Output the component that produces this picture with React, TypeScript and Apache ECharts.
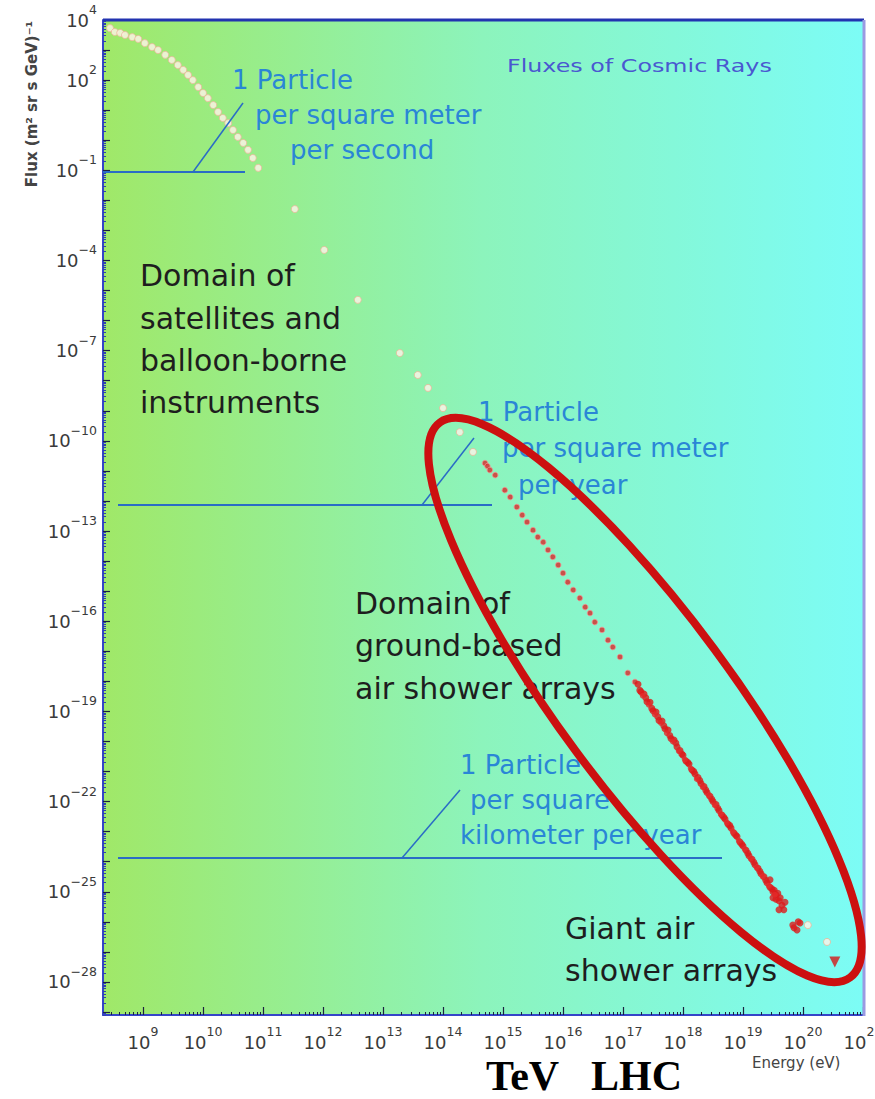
import React, { useEffect, useRef } from "react";
import * as echarts from "echarts";

// ---- data (log10 of energy in eV, log10 of flux) ----
const whiteLogE = [8.45, 8.53, 8.62, 8.7, 8.82, 8.92, 9.03, 9.15, 9.25, 9.37, 9.48, 9.58, 9.67, 9.75, 9.83, 9.92, 10.0, 10.08, 10.17, 10.25, 10.33, 10.42, 10.5, 10.58, 10.67, 10.75, 10.83, 10.92, 11.53, 12.02, 12.58, 13.28, 13.58, 13.75, 14.0, 14.28, 14.5, 20.08, 20.4];
const whiteLogF = [3.73, 3.6, 3.57, 3.5, 3.43, 3.37, 3.23, 3.1, 3.0, 2.84, 2.67, 2.5, 2.34, 2.17, 2.0, 1.77, 1.57, 1.4, 1.17, 0.94, 0.74, 0.57, 0.34, 0.11, -0.09, -0.32, -0.59, -0.92, -2.29, -3.65, -5.31, -7.08, -7.81, -8.24, -8.91, -9.71, -10.37, -26.11, -26.67];

const redSmallLogE = [14.7, 14.74, 14.78, 14.87, 15.03, 15.12, 15.23, 15.32, 15.4, 15.5, 15.58, 15.67, 15.75, 15.83, 15.92, 16.0, 16.08, 16.17, 16.28, 16.37, 16.45, 16.53, 16.65, 16.75, 16.83, 16.95, 17.08, 17.2];
const redSmallLogF = [-10.74, -10.84, -10.97, -11.14, -11.64, -11.87, -12.2, -12.47, -12.7, -12.97, -13.2, -13.37, -13.63, -13.86, -14.13, -14.4, -14.7, -14.96, -15.23, -15.53, -15.73, -16.03, -16.29, -16.63, -16.86, -17.19, -17.72, -18.02];

const bandALogE = [17.25, 17.3, 17.35, 17.4, 17.45, 17.5, 17.55, 17.6, 17.65, 17.7, 17.75, 17.8, 17.85, 17.9, 17.95, 18.0, 18.05, 18.1, 18.15, 18.2, 18.25, 18.3, 18.35, 18.4, 18.45, 18.5, 18.55, 18.6, 18.65, 18.7, 18.75, 18.8, 18.85, 18.9, 18.95, 19.0, 19.05, 19.1, 19.15, 19.2, 19.25, 19.3, 19.35, 19.4, 19.45, 19.5, 19.55, 19.6, 19.65];
const bandALogF = [-18.1, -18.35, -18.42, -18.68, -18.7, -18.98, -19.02, -19.3, -19.32, -19.58, -19.62, -19.9, -19.95, -20.18, -20.3, -20.46, -20.65, -20.75, -20.95, -21.08, -21.2, -21.4, -21.5, -21.7, -21.82, -22.0, -22.1, -22.3, -22.45, -22.58, -22.75, -22.88, -23.05, -23.16, -23.35, -23.48, -23.62, -23.8, -23.92, -24.1, -24.22, -24.4, -24.5, -24.7, -24.85, -25.0, -25.1, -25.3, -25.45];

const bandBLogE = [17.28, 17.38, 17.48, 17.58, 17.68, 17.78, 17.88, 17.98, 18.08, 18.18, 18.28, 18.38, 18.48, 18.58, 18.68, 18.78, 18.88, 18.98, 19.08, 19.18, 19.28, 19.38, 19.48, 19.55, 19.62, 19.68, 19.7, 19.45, 19.52, 19.58, 19.5, 19.6, 19.83, 19.95, 19.9, 19.85, 19.92];
const bandBLogF = [-18.3, -18.55, -18.9, -19.18, -19.48, -19.8, -20.05, -20.42, -20.7, -21.0, -21.3, -21.62, -21.92, -22.22, -22.52, -22.8, -23.12, -23.42, -23.72, -24.02, -24.32, -24.62, -24.9, -25.25, -25.2, -25.6, -25.35, -24.6, -24.95, -25.05, -25.2, -25.6, -26.11, -26.04, -26.27, -26.2, -26.0];

const bandCLogE = [17.33, 17.43, 17.53, 17.63, 17.73, 17.83, 17.93, 18.03, 18.13, 18.23, 18.33, 18.43, 18.53, 18.63, 18.73, 18.83, 18.93, 19.03, 19.13, 19.23, 19.33, 19.43, 19.53];
const bandCLogF = [-18.48, -18.78, -19.1, -19.38, -19.72, -20.0, -20.32, -20.6, -20.9, -21.25, -21.52, -21.8, -22.12, -22.42, -22.7, -23.0, -23.3, -23.58, -23.9, -24.2, -24.5, -24.8, -25.1];

const triangleLogE = [20.53];
const triangleLogF = [-27.34];

const xLabelValues = [9, 10, 11, 12, 13, 14, 15, 16, 17, 18, 19, 20, 21];
const yLabelValues = [4, 2, -1, -4, -7, -10, -13, -16, -19, -22, -25, -28];

const X_MIN = 8.333;
const X_MAX = 21;
const Y_MIN = -29.1;
const Y_MAX = 4;

const zip = (a: number[], b: number[]) => a.map((v, i) => [v, b[i]]);

const minorTicks = (from: number, to: number) => {
  const out: number[] = [];
  for (let n = from; n <= to; n++) {
    for (let k = 2; k <= 9; k++) out.push(n + Math.log10(k));
  }
  return out;
};
const intRange = (from: number, to: number) => {
  const out: number[] = [];
  for (let n = from; n <= to; n++) out.push(n);
  return out;
};

const supFmt = (v: number) => {
  const r = Math.round(v);
  const e = r < 0 ? "\u2212" + -r : String(r);
  return `{b|10}{s|${e}}`;
};

const FONT = "DejaVu Sans";
const labelRich = {
  b: { fontSize: 18, fontFamily: FONT, color: "#3a3a3a", lineHeight: 34 },
  s: { fontSize: 12.5, fontFamily: FONT, color: "#3a3a3a", lineHeight: 12, verticalAlign: "top" },
};

const BLUE_TXT = "#2a86d6";
const BLUE_LINE = "#2a6cc6";
const DARK_TXT = "#1e1e1e";

const txt = (text: string, x: number, y: number, size: number, fill: string, extra: any = {}) => ({
  type: "text",
  x,
  y,
  z: 50,
  style: {
    text,
    fill,
    fontSize: size,
    fontFamily: FONT,
    align: "left",
    verticalAlign: "middle",
    ...extra,
  },
});

const ln = (x1: number, y1: number, x2: number, y2: number, stroke: string, w: number) => ({
  type: "line",
  z: 40,
  shape: { x1, y1, x2, y2 },
  style: { stroke, lineWidth: w },
});

export default function App() {
  const ref = useRef<HTMLDivElement>(null);

  useEffect(() => {
    document.body.style.margin = "0";
    const chart = echarts.init(ref.current!, undefined, { renderer: "svg" });

    const option: any = {
      animation: false,
      backgroundColor: "#ffffff",
      grid: {
        left: 103,
        top: 20,
        width: 760,
        height: 995,
        show: true,
        borderWidth: 0,
        containLabel: false,
        outerBoundsMode: "none",
        backgroundColor: new echarts.graphic.LinearGradient(0, 0, 1, 0, [
          { offset: 0, color: "#a0e868" },
          { offset: 0.5, color: "#8cf4bc" },
          { offset: 1, color: "#7cfcf6" },
        ]),
      },
      xAxis: [
        {
          type: "value",
          min: X_MIN,
          max: X_MAX,
          position: "bottom",
          splitLine: { show: false },
          axisLine: { show: true, onZero: false, lineStyle: { color: "#3545c8", width: 2 } },
          axisTick: {
            show: true,
            inside: true,
            length: 8,
            customValues: xLabelValues,
            lineStyle: { color: "#1c2240", width: 1.2 },
          },
          axisLabel: {
            show: true,
            margin: 10,
            customValues: xLabelValues,
            formatter: supFmt,
            rich: labelRich,
          },
        },
        {
          type: "value",
          min: X_MIN,
          max: X_MAX,
          position: "bottom",
          splitLine: { show: false },
          axisLine: { show: false, onZero: false },
          axisTick: {
            show: true,
            inside: true,
            length: 3,
            customValues: minorTicks(8, 20),
            lineStyle: { color: "#1c2240", width: 1 },
          },
          axisLabel: { show: false },
        },
      ],
      yAxis: [
        {
          type: "value",
          min: Y_MIN,
          max: Y_MAX,
          position: "left",
          splitLine: { show: false },
          axisLine: { show: true, onZero: false, lineStyle: { color: "#3545c8", width: 2 } },
          axisTick: {
            show: true,
            inside: true,
            length: 7,
            customValues: intRange(-29, 4),
            lineStyle: { color: "#1c2240", width: 1.2 },
          },
          axisLabel: {
            show: true,
            margin: 6,
            customValues: yLabelValues,
            formatter: supFmt,
            rich: labelRich,
          },
        },
        {
          type: "value",
          min: Y_MIN,
          max: Y_MAX,
          position: "left",
          splitLine: { show: false },
          axisLine: { show: false, onZero: false },
          axisTick: {
            show: true,
            inside: true,
            length: 3,
            customValues: minorTicks(-30, 3),
            lineStyle: { color: "#3040b0", width: 1 },
          },
          axisLabel: { show: false },
        },
      ],
      series: [
        {
          type: "scatter",
          name: "low energy",
          symbol: "circle",
          symbolSize: 7,
          data: zip(whiteLogE, whiteLogF),
          itemStyle: { color: "#fff4ea", borderColor: "#eab898", borderWidth: 1 },
          z: 3,
        },
        {
          type: "scatter",
          name: "air shower small",
          symbol: "circle",
          symbolSize: 5.5,
          data: zip(redSmallLogE, redSmallLogF),
          itemStyle: { color: "#d82828", borderColor: "#f29090", borderWidth: 1 },
          z: 3,
        },
        {
          type: "scatter",
          name: "air shower A",
          symbol: "circle",
          symbolSize: 7,
          data: zip(bandALogE, bandALogF),
          itemStyle: { color: "#e01616" },
          z: 3,
        },
        {
          type: "scatter",
          name: "air shower B",
          symbol: "circle",
          symbolSize: 7,
          data: zip(bandBLogE, bandBLogF),
          itemStyle: { color: "#dc1c1c" },
          z: 3,
        },
        {
          type: "scatter",
          name: "air shower C",
          symbol: "circle",
          symbolSize: 6,
          data: zip(bandCLogE, bandCLogF),
          itemStyle: { color: "#e42a2a" },
          z: 3,
        },
        {
          type: "scatter",
          name: "highest",
          symbol: "triangle",
          symbolRotate: 180,
          symbolSize: 11,
          data: zip(triangleLogE, triangleLogF),
          itemStyle: { color: "#d41818" },
          z: 3,
        },
      ],
      graphic: [
        // frame top and right
        ln(103, 20, 864, 20, "#2233b0", 3),
        ln(864, 20, 864, 1016, "#9a9ae2", 3),
        // title
        {
          type: "text",
          x: 507,
          y: 66,
          scaleX: 1.4,
          z: 50,
          style: {
            text: "Fluxes of Cosmic Rays",
            fill: "#4a58d0",
            fontSize: 17,
            fontFamily: FONT,
            align: "left",
            verticalAlign: "middle",
          },
        },
        // y axis name
        {
          type: "text",
          x: 32,
          y: 104,
          rotation: Math.PI / 2,
          z: 50,
          style: {
            text: "Flux (m\u00b2 sr s GeV)\u207b\u00b9",
            fill: "#444444",
            fontSize: 15,
            fontWeight: "bold",
            fontFamily: FONT,
            align: "center",
            verticalAlign: "middle",
          },
        },
        // x axis name
        txt("Energy (eV)", 752, 1063, 15, "#444444"),
        // TeV LHC
        txt("TeV", 486, 1097, 42, "#000000", { fontFamily: "Liberation Serif", fontWeight: "bold", verticalAlign: "bottom" }),
        txt("LHC", 591, 1097, 42, "#000000", { fontFamily: "Liberation Serif", fontWeight: "bold", verticalAlign: "bottom" }),
        // annotation 1
        ln(103, 172, 245, 172, BLUE_LINE, 2),
        ln(193, 172, 243, 103, BLUE_LINE, 1.5),
        txt("1 Particle", 232, 80, 26, BLUE_TXT),
        txt("per square meter", 255, 115, 26, BLUE_TXT),
        txt("per second", 290, 150, 26, BLUE_TXT),
        // annotation 2
        ln(118, 505, 492, 505, BLUE_LINE, 2),
        ln(422, 505, 474, 438, BLUE_LINE, 1.5),
        txt("1 Particle", 478, 412, 26, BLUE_TXT),
        txt("per square meter", 502, 448, 26, BLUE_TXT),
        txt("per year", 518, 485, 26, BLUE_TXT),
        // annotation 3
        ln(118, 858, 722, 858, BLUE_LINE, 2),
        ln(402, 858, 460, 790, BLUE_LINE, 1.5),
        txt("1 Particle", 460, 765, 26, BLUE_TXT),
        txt("per square", 470, 800, 26, BLUE_TXT),
        txt("kilometer per year", 460, 835, 26, BLUE_TXT),
        // domains
        txt("Domain of", 140, 275, 30, DARK_TXT),
        txt("satellites and", 140, 318, 30, DARK_TXT),
        txt("balloon-borne", 140, 360, 30, DARK_TXT),
        txt("instruments", 140, 402, 30, DARK_TXT),
        txt("Domain of", 355, 603, 30, DARK_TXT),
        txt("ground-based", 355, 645, 30, DARK_TXT),
        txt("air shower arrays", 355, 688, 30, DARK_TXT),
        txt("Giant air", 565, 928, 30, DARK_TXT),
        txt("shower arrays", 565, 970, 30, DARK_TXT),
        // red ellipse
        {
          type: "ellipse",
          x: 645,
          y: 700,
          rotation: (-53.5 * Math.PI) / 180,
          z: 60,
          shape: { cx: 0, cy: 0, rx: 345, ry: 86 },
          style: { fill: "none", stroke: "#cc1010", lineWidth: 8 },
        },
      ],
    };

    chart.setOption(option);
    return () => chart.dispose();
  }, []);

  return (
    <div
      ref={ref}
      style={{ position: "absolute", left: 0, top: 0, width: 875, height: 1099, background: "#fff" }}
    />
  );
}
